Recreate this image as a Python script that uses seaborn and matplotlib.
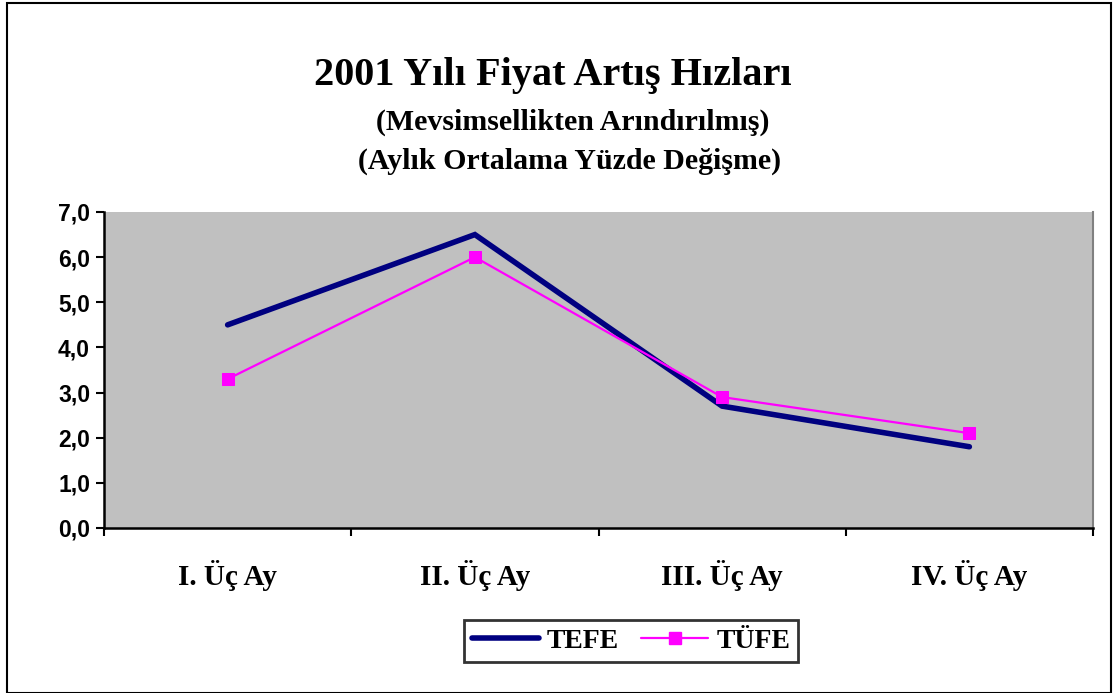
import matplotlib
matplotlib.use("Agg")
import matplotlib.pyplot as plt
import seaborn as sns
import pandas as pd
from matplotlib.patches import Rectangle
from matplotlib.lines import Line2D

categories = ["I. Üç Ay", "II. Üç Ay", "III. Üç Ay", "IV. Üç Ay"]
tefe = [4.5, 6.5, 2.7, 1.8]
tufe = [3.3, 6.0, 2.9, 2.1]
yticks = [0, 1, 2, 3, 4, 5, 6, 7]
ytick_labels = ["0,0", "1,0", "2,0", "3,0", "4,0", "5,0", "6,0", "7,0"]

sns.set_theme(style="white")
plt.rcParams['font.family'] = ['Liberation Sans', 'DejaVu Sans']
plt.rcParams['text.color'] = 'black'
plt.rcParams['xtick.color'] = 'black'
plt.rcParams['ytick.color'] = 'black'

fig = plt.figure(figsize=(11.19, 6.93), dpi=100)
ax = fig.add_axes([104/1119, 1-528/693, (1093-104)/1119, (528-212)/693])
ax.set_facecolor("#C0C0C0")

pos = list(range(len(categories)))
df1 = pd.DataFrame({"x": pos, "y": tefe})
df2 = pd.DataFrame({"x": pos, "y": tufe})
sns.lineplot(data=df1, x="x", y="y", ax=ax, color="#000080", linewidth=4.0,
             solid_capstyle="round", solid_joinstyle="miter", legend=False)
sns.lineplot(data=df2, x="x", y="y", ax=ax, color="#FF00FF", linewidth=1.6,
             marker="s", markersize=8.5, markeredgecolor="#FF00FF", legend=False)

ax.set_xlim(-0.5, 3.5)
ax.set_ylim(0, 7)
ax.set_yticks(yticks)
ax.set_yticklabels(ytick_labels, fontsize=16.5, fontweight="bold", family=["Liberation Sans"])
ax.set_xticks([-0.5, 0.5, 1.5, 2.5, 3.5])
ax.set_xticklabels([])
ax.set_xticks(pos, minor=True)
ax.set_xticklabels(categories, minor=True, fontsize=21, fontweight="bold",
                   family=["Liberation Serif"])
ax.tick_params(axis="x", which="minor", length=0, pad=23)
ax.tick_params(axis="both", which="major", direction="out", length=6, width=1.5, color="black")
ax.tick_params(axis="y", pad=4)
ax.tick_params(axis="x", which="major", bottom=True)
ax.tick_params(axis="y", which="major", left=True)
ax.set_xlabel("")
ax.set_ylabel("")
for s in ["left", "bottom"]:
    ax.spines[s].set_color("black")
    ax.spines[s].set_linewidth(1.8)
ax.spines["right"].set_color("#808080")
ax.spines["right"].set_linewidth(1.5)
ax.spines["top"].set_visible(False)

fig.text(553/1119, 1-76/693, "2001 Yılı Fiyat Artış Hızları", ha="center", va="center",
         fontsize=29, fontweight="bold", family=["Liberation Serif"], color="black")
fig.text(573/1119, 1-122/693, "(Mevsimsellikten Arındırılmış)", ha="center", va="center",
         fontsize=21.5, fontweight="bold", family=["Liberation Serif"], color="black")
fig.text(570/1119, 1-161/693, "(Aylık Ortalama Yüzde Değişme)", ha="center", va="center",
         fontsize=21.5, fontweight="bold", family=["Liberation Serif"], color="black")

handles = [Line2D([0], [0], color="#000080", linewidth=4.0, solid_capstyle="round"),
           Line2D([0], [0], color="#FF00FF", linewidth=1.6, marker="s", markersize=8.5)]
leg = fig.legend(handles, ["TEFE", "TÜFE"], loc="center", bbox_to_anchor=(631/1119, 1-641/693),
                 ncol=2, frameon=True, fancybox=False, handlelength=2.4, columnspacing=0.8,
                 handletextpad=0.3, borderpad=0.3, borderaxespad=0,
                 prop={"family": "Liberation Serif", "weight": "bold", "size": 20})
leg.get_frame().set_edgecolor("black")
leg.get_frame().set_linewidth(2)
for t in leg.get_texts():
    t.set_color("black")

fig.patches.append(Rectangle((7/1119, 0), (1111-7)/1119, 1-3/693, transform=fig.transFigure,
                             fill=False, edgecolor="black", linewidth=1.5))

fig.savefig("out.png", dpi=100, facecolor="white")
